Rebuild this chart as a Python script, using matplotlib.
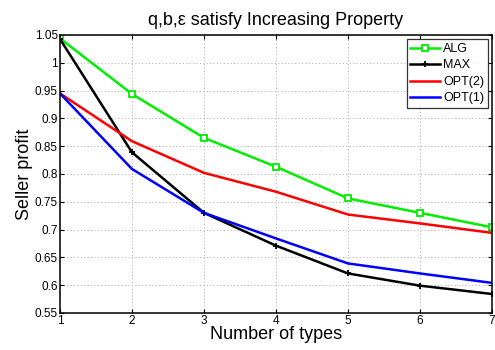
import matplotlib
matplotlib.use("Agg")
import matplotlib.pyplot as plt

plt.rcParams['font.family'] = ['Liberation Sans', 'DejaVu Sans']

x = [1, 2, 3, 4, 5, 6, 7]
alg = [1.044, 0.944, 0.865, 0.813, 0.756, 0.730, 0.704]
mx = [1.043, 0.839, 0.730, 0.671, 0.621, 0.599, 0.584]
opt2 = [0.945, 0.859, 0.802, 0.768, 0.727, 0.711, 0.694]
opt1 = [0.945, 0.809, 0.730, 0.684, 0.639, 0.621, 0.604]
yticks = [0.55, 0.6, 0.65, 0.7, 0.75, 0.8, 0.85, 0.9, 0.95, 1, 1.05]
yticklabels = ['0.55', '0.6', '0.65', '0.7', '0.75', '0.8', '0.85', '0.9', '0.95', '1', '1.05']

fig = plt.figure(figsize=(4.95, 3.5), dpi=100)
ax = fig.add_axes([0.121, 0.106, 0.873, 0.794])

ax.plot(x, alg, color='#00ee00', lw=1.8, marker='s', ms=4.5, mfc='white', mec='#00ee00', mew=1.3, label='ALG')
ax.plot(x, mx, color='black', lw=1.8, marker='+', ms=5, mew=1.3, label='MAX')
ax.plot(x, opt2, color='red', lw=1.8, label='OPT(2)')
ax.plot(x, opt1, color='blue', lw=1.8, label='OPT(1)')

ax.set_xlim(1, 7)
ax.set_ylim(0.55, 1.05)
ax.set_xticks(x)
ax.set_yticks(yticks)
ax.set_yticklabels(yticklabels)
ax.tick_params(direction='in', labelsize=8.5, top=True, right=True, length=3, pad=1.5)
ax.grid(True, linestyle=(0, (1, 2.5)), color='#aaaaaa', linewidth=0.7)
for s in ax.spines.values():
    s.set_linewidth(1.1)

ax.set_title('q,b,\u03b5 satisfy Increasing Property', fontsize=13, pad=7)
ax.set_xlabel('Number of types', fontsize=13, labelpad=-1)
ax.set_ylabel('Seller profit', fontsize=13, labelpad=1)

leg = ax.legend(loc='upper right', fontsize=9, frameon=True, fancybox=False,
                edgecolor='black', handlelength=2.4, handletextpad=0.2,
                borderpad=0.3, labelspacing=0.35, borderaxespad=0.35)
leg.get_frame().set_linewidth(0.9)

fig.savefig('out.png', dpi=100)
